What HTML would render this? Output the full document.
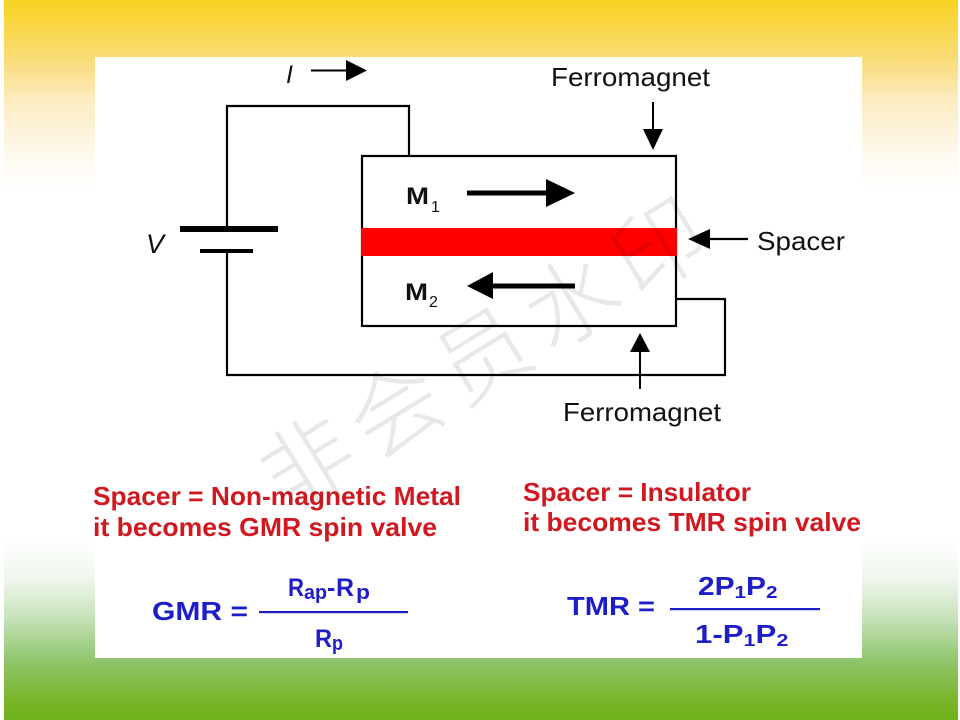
<!DOCTYPE html>
<html>
<head>
<meta charset="utf-8">
<style>
html,body{margin:0;padding:0;width:960px;height:720px;overflow:hidden;background:#fff;}
svg{display:block;}
</style>
</head>
<body>
<svg width="960" height="720" viewBox="0 0 960 720" xmlns="http://www.w3.org/2000/svg" font-family="'Liberation Sans', Arial, sans-serif">
<defs>
<linearGradient id="bg" x1="0" y1="0" x2="0" y2="720" gradientUnits="userSpaceOnUse">
<stop offset="0" stop-color="#F9D320"/>
<stop offset="0.079" stop-color="#F9DB74"/>
<stop offset="0.139" stop-color="#FCEBC0"/>
<stop offset="0.208" stop-color="#FEF8EA"/>
<stop offset="0.264" stop-color="#FFFFFF"/>
<stop offset="0.75" stop-color="#FFFFFF"/>
<stop offset="0.806" stop-color="#EEF6EC"/>
<stop offset="0.861" stop-color="#C4E1B6"/>
<stop offset="0.917" stop-color="#8FC66C"/>
<stop offset="0.972" stop-color="#78B52A"/>
<stop offset="1" stop-color="#6FB31A"/>
</linearGradient>
</defs>
<rect width="960" height="720" fill="url(#bg)"/>
<rect x="0" y="0" width="4" height="720" fill="#fff"/>
<rect x="958" y="0" width="2" height="720" fill="#fff"/>

<!-- white panel -->
<rect x="95" y="57" width="767" height="601" fill="#fff"/>

<!-- circuit wires -->
<g stroke="#000" stroke-width="2.2" fill="none">
  <polyline points="227,229 227,106 409,106 409,156"/>
  <polyline points="227,251 227,375 725,375 725,299 676,299"/>
  <rect x="362" y="156" width="314" height="170"/>
</g>
<!-- red spacer -->
<rect x="361" y="228" width="316" height="28" fill="#FF0000"/>

<!-- battery -->
<rect x="180" y="226" width="98" height="6" fill="#000"/>
<rect x="200" y="249" width="53" height="4" fill="#000"/>

<!-- I arrow -->
<line x1="311" y1="70.5" x2="349" y2="70.5" stroke="#000" stroke-width="2"/>
<polygon points="346,60 346,81 367,70.5" fill="#000"/>

<!-- top Ferromagnet arrow -->
<line x1="653" y1="102" x2="653" y2="132" stroke="#000" stroke-width="2"/>
<polygon points="643,129 663,129 653,150" fill="#000"/>

<!-- spacer arrow -->
<line x1="707" y1="239" x2="748" y2="239" stroke="#000" stroke-width="2.2"/>
<polygon points="710,229 710,249 688,239" fill="#000"/>

<!-- bottom Ferromagnet arrow -->
<line x1="640" y1="350" x2="640" y2="389" stroke="#000" stroke-width="2"/>
<polygon points="630,352 650,352 640,333" fill="#000"/>

<!-- M1 arrow -->
<line x1="467" y1="193" x2="550" y2="193" stroke="#000" stroke-width="5"/>
<polygon points="546,179 546,207 575,193" fill="#000"/>
<!-- M2 arrow -->
<line x1="490" y1="286" x2="575" y2="286" stroke="#000" stroke-width="5"/>
<polygon points="493,272 493,299 467,286" fill="#000"/>

<!-- diagram labels -->
<text x="286" y="83" font-size="25" font-style="italic" fill="#111">I</text>
<text x="146" y="253" font-size="27" font-style="italic" fill="#111">V</text>
<text x="551" y="86" font-size="26" fill="#111" textLength="159" lengthAdjust="spacingAndGlyphs">Ferromagnet</text>
<text x="563" y="421" font-size="26" fill="#111" textLength="158" lengthAdjust="spacingAndGlyphs">Ferromagnet</text>
<text x="757" y="250" font-size="26" fill="#111" textLength="88" lengthAdjust="spacingAndGlyphs">Spacer</text>

<text x="406" y="204" font-size="24" font-weight="bold" fill="#111" textLength="23" lengthAdjust="spacingAndGlyphs">M</text>
<text x="431" y="212" font-size="16" fill="#111">1</text>
<text x="405" y="300" font-size="24" font-weight="bold" fill="#111" textLength="23" lengthAdjust="spacingAndGlyphs">M</text>
<text x="429" y="307" font-size="16" fill="#111">2</text>

<!-- red text -->
<g fill="#D01820" font-weight="bold" font-size="26">
  <text x="93" y="505" textLength="368" lengthAdjust="spacingAndGlyphs">Spacer = Non-magnetic Metal</text>
  <text x="93" y="536" textLength="344" lengthAdjust="spacingAndGlyphs">it becomes GMR spin valve</text>
  <text x="523" y="501" textLength="228" lengthAdjust="spacingAndGlyphs">Spacer = Insulator</text>
  <text x="523" y="531" textLength="338" lengthAdjust="spacingAndGlyphs">it becomes TMR spin valve</text>
</g>

<!-- formulas -->
<g fill="#1E1EC8" font-weight="bold">
  <text x="152" y="620" font-size="26" textLength="96" lengthAdjust="spacingAndGlyphs">GMR =</text>
  <rect x="259" y="611" width="149" height="2.2"/>
  <text x="288" y="596" font-size="25" textLength="16" lengthAdjust="spacingAndGlyphs">R</text>
  <text x="304" y="599" font-size="20" textLength="23" lengthAdjust="spacingAndGlyphs">ap</text>
  <text x="327" y="596" font-size="25">-</text>
  <text x="336" y="596" font-size="25" textLength="18" lengthAdjust="spacingAndGlyphs">R</text>
  <text x="356" y="599" font-size="20" textLength="14" lengthAdjust="spacingAndGlyphs">p</text>
  <text x="315" y="647" font-size="25" textLength="17" lengthAdjust="spacingAndGlyphs">R</text>
  <text x="332" y="650" font-size="20" textLength="11" lengthAdjust="spacingAndGlyphs">p</text>

  <text x="567" y="615" font-size="26" textLength="88" lengthAdjust="spacingAndGlyphs">TMR =</text>
  <rect x="670" y="608" width="150" height="2.2"/>
  <g transform="translate(698,595) scale(1.15,1)">
    <text x="0" y="0" font-size="26">2P<tspan font-size="18" dy="3">1</tspan><tspan dy="-3">P</tspan><tspan font-size="18" dy="3">2</tspan></text>
  </g>
  <g transform="translate(695,643) scale(1.2,1)">
    <text x="0" y="0" font-size="26">1-P<tspan font-size="18" dy="3">1</tspan><tspan dy="-3">P</tspan><tspan font-size="18" dy="3">2</tspan></text>
  </g>
</g>

<!-- watermark -->
<g transform="translate(480,350) rotate(-31.6)">
  <text x="0" y="0" text-anchor="middle" dominant-baseline="central" font-family="'Noto Sans CJK SC', 'WenQuanYi Zen Hei', sans-serif" font-weight="300" font-size="92" fill="#000" fill-opacity="0.09" textLength="505" lengthAdjust="spacing">非会员水印</text>
</g>
</svg>
</body>
</html>
